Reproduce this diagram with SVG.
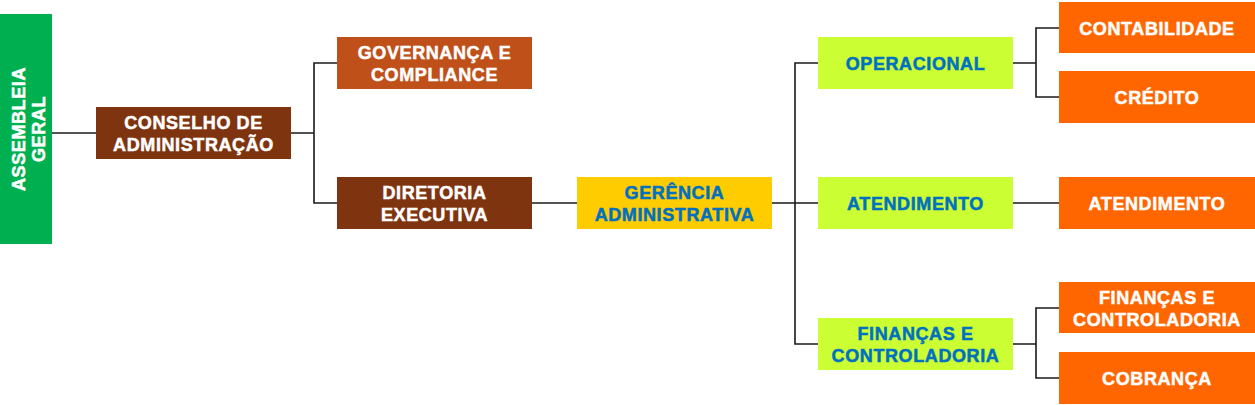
<svg xmlns="http://www.w3.org/2000/svg" width="1255" height="405" viewBox="0 0 1255 405">
<style>
text{font-family:"Liberation Sans",Arial,sans-serif;font-weight:bold;font-size:18px;letter-spacing:0.6px;text-anchor:middle;stroke-width:0.5px}
.w{fill:#ffffff;stroke:#ffffff}
.b{fill:#0070C0;stroke:#0070C0}
.ln{stroke:#1a1a1a;stroke-width:1.6;fill:none}
</style>
<rect width="1255" height="405" fill="#ffffff"/>
<g id="connectors">
<path class="ln" d="M52 133H96"/>
<path class="ln" d="M291 133H314M337 63H314V203H337"/>
<path class="ln" d="M532 203H577"/>
<path class="ln" d="M772 203H818M818 63H795V344H818"/>
<path class="ln" d="M1013 63H1036M1059 28H1036V97H1059"/>
<path class="ln" d="M1013 203H1059"/>
<path class="ln" d="M1013 344H1036M1059 308H1036V378H1059"/>
</g>
<g id="assembleia">
<rect x="0" y="14" width="52" height="230" fill="#00B050"/>
<text class="w" transform="translate(24.5 129) rotate(-90)">ASSEMBLEIA</text>
<text class="w" transform="translate(44.5 129) rotate(-90)">GERAL</text>
</g>
<g id="conselho">
<rect x="96" y="107" width="195" height="52" fill="#7F3410"/>
<text class="w" x="193.5" y="128.5">CONSELHO DE</text>
<text class="w" x="193.5" y="150.5">ADMINISTRAÇÃO</text>
</g>
<g id="governanca">
<rect x="337" y="37" width="195" height="52" fill="#C0501A"/>
<text class="w" x="434.5" y="58.5">GOVERNANÇA E</text>
<text class="w" x="434.5" y="80.5">COMPLIANCE</text>
</g>
<g id="diretoria">
<rect x="337" y="177" width="195" height="52" fill="#7F3410"/>
<text class="w" x="434.5" y="198.5">DIRETORIA</text>
<text class="w" x="434.5" y="220.5">EXECUTIVA</text>
</g>
<g id="gerencia">
<rect x="577" y="177" width="195" height="52" fill="#FFCC00"/>
<text class="b" x="674.5" y="198.5">GERÊNCIA</text>
<text class="b" x="674.5" y="220.5">ADMINISTRATIVA</text>
</g>
<g id="operacional">
<rect x="818" y="37" width="195" height="52" fill="#CCFF33"/>
<text class="b" x="915.5" y="69.5">OPERACIONAL</text>
</g>
<g id="atendimento-g">
<rect x="818" y="177" width="195" height="52" fill="#CCFF33"/>
<text class="b" x="915.5" y="209.5">ATENDIMENTO</text>
</g>
<g id="financas-g">
<rect x="818" y="318" width="195" height="52" fill="#CCFF33"/>
<text class="b" x="915.5" y="339.5">FINANÇAS E</text>
<text class="b" x="915.5" y="361.5">CONTROLADORIA</text>
</g>
<g id="contabilidade">
<rect x="1059" y="2" width="196" height="51" fill="#FF6600"/>
<text class="w" x="1157" y="34.5">CONTABILIDADE</text>
</g>
<g id="credito">
<rect x="1059" y="71" width="196" height="52" fill="#FF6600"/>
<text class="w" x="1157" y="104">CRÉDITO</text>
</g>
<g id="atendimento-o">
<rect x="1059" y="177" width="196" height="52" fill="#FF6600"/>
<text class="w" x="1157" y="209.5">ATENDIMENTO</text>
</g>
<g id="financas-o">
<rect x="1059" y="282" width="196" height="51" fill="#FF6600"/>
<text class="w" x="1157" y="303.5">FINANÇAS E</text>
<text class="w" x="1157" y="325.5">CONTROLADORIA</text>
</g>
<g id="cobranca">
<rect x="1059" y="352" width="196" height="52" fill="#FF6600"/>
<text class="w" x="1157" y="385">COBRANÇA</text>
</g>
</svg>
